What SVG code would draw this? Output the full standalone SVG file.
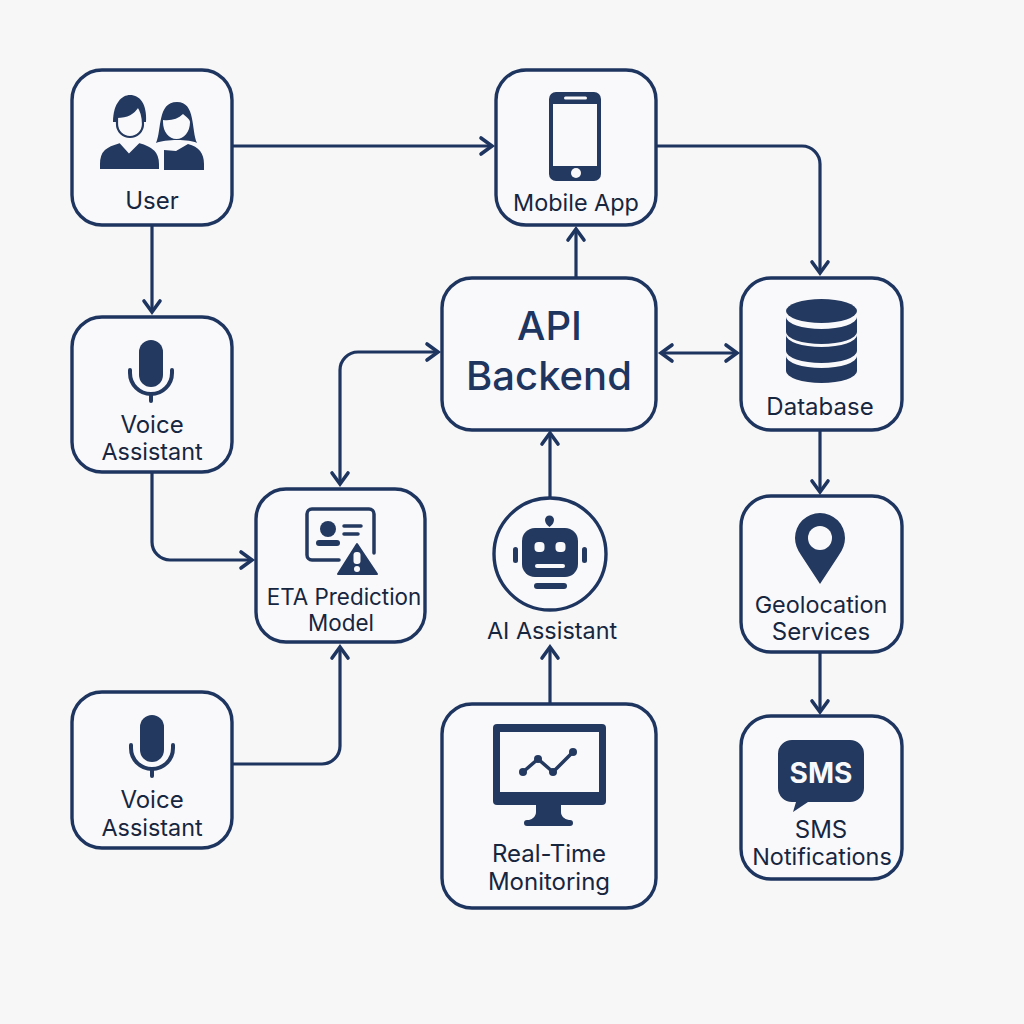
<svg xmlns="http://www.w3.org/2000/svg" width="1024" height="1024" viewBox="0 0 1024 1024">
<defs>
<style>
.box{fill:#f9f9fb;stroke:#1e3560;stroke-width:3.4}
.t{font-family:"Inter","Liberation Sans",sans-serif;font-size:24px;fill:#17263f;text-anchor:middle}
.s{font-size:23.400px}
.e{font-size:22.400px}
.big{font-family:"Inter","Liberation Sans",sans-serif;font-size:40px;font-weight:500;fill:#1e3560;text-anchor:middle}
.i{fill:#24395f}
.w{fill:#f9f9fb}
.ln{fill:none;stroke:#24395f;stroke-width:3.500;stroke-linejoin:round;stroke-linecap:round}
.c{fill:none;stroke:#1e3560;stroke-width:3.200}
.h{fill:none;stroke:#1e3560;stroke-width:3.600;stroke-linecap:round;stroke-linejoin:miter}
</style>
<symbol id="mic" overflow="visible">
<rect x="-12" y="-35" width="24" height="47" rx="12" class="i"/>
<path d="M-21,-5v3a21,21 0 0 0 42,0v-3" class="ln" style="stroke-width:4"/>
<path d="M0,19v7" class="ln" style="stroke-width:4"/>
</symbol>
</defs>
<rect width="1024" height="1024" fill="#f7f7f7"/>
<g id="connectors">
<path class="c" d="M232,146H491"/><path class="h" d="M481,138l11,8l-11,8"/>
<path class="c" d="M152,225V311"/><path class="h" d="M144,301l8,11l8,-11"/>
<path class="c" d="M656,146H802a18,18 0 0 1 18,18V272"/><path class="h" d="M812,262l8,11l8,-11"/>
<path class="c" d="M576,278V230"/><path class="h" d="M568,240l8,-11l8,11"/>
<path class="c" d="M662,353H735"/><path class="h" d="M672,345l-11,8l11,8M726,345l11,8l-11,8"/>
<path class="c" d="M340,483V370a18,18 0 0 1 18,-18H437"/><path class="h" d="M427,344l11,8l-11,8M332,473l8,11l8,-11"/>
<path class="c" d="M152,472V542a18,18 0 0 0 18,18H250"/><path class="h" d="M241,552l11,8l-11,8"/>
<path class="c" d="M232,764H322a18,18 0 0 0 18,-18V648"/><path class="h" d="M332,658l8,-11l8,11"/>
<path class="c" d="M550,498V436"/><path class="h" d="M542,444l8,-11l8,11"/>
<path class="c" d="M550,704V650"/><path class="h" d="M542,658l8,-11l8,11"/>
<path class="c" d="M820,430V490"/><path class="h" d="M812,481l8,11l8,-11"/>
<path class="c" d="M820,652V710"/><path class="h" d="M812,701l8,11l8,-11"/>
</g>
<g id="user">
<rect class="box" x="72" y="70" width="160" height="155" rx="30"/>
<path class="i" d="M164,170V150L176,151L188,144C199,147 204,153 204,164V170Z"/>
<path class="i" d="M156,143C162,130 157,102 177,102C196,102 191,130 197,143C190,139 165,139 156,143Z"/>
<path class="w" d="M163,120C171,121 178,119 183,114C186,117 190,119 190,122C190,132 184,139 176.500,139C169,139 163,132 163,122Z"/>
<path class="i" stroke="#f9f9fb" stroke-width="2" d="M99,170V164C99,150 106,146 120,142L129,152L139,142C154,146 160,152 160,164V170Z"/>
<path class="i" d="M113,122C113,103 122,95 130,95C140,95 147,104 146,122Z"/>
<path d="M117,117C126,117 134,113 138,106C141,110 143,114 143,124A13,13 0 0 1 117,124Z" fill="#f9f9fb" stroke="#24395f" stroke-width="2.200"/>
<text class="t" x="152" y="209">User</text>
</g>
<g id="mobile-app">
<rect class="box" x="496" y="70" width="160" height="155" rx="30"/>
<rect class="i" x="549" y="92" width="52" height="89" rx="7"/>
<rect class="w" x="553" y="104" width="44" height="62"/>
<rect class="w" x="564" y="96.500" width="23" height="3" rx="1.500"/>
<circle class="w" cx="576" cy="173" r="5"/>
<text class="t s" x="576" y="211">Mobile App</text>
</g>
<g id="api-backend">
<rect class="box" x="442" y="278" width="214" height="152" rx="30"/>
<text class="big" x="549.500" y="340">API</text>
<text class="big" x="549" y="390">Backend</text>
</g>
<g id="database">
<rect class="box" x="741" y="278" width="161" height="152" rx="30"/>
<path class="i" d="M786,317A35.500,12 0 0 0 857,317V332A35.500,12 0 0 1 786,332Z"/>
<path class="i" d="M786,335A35.500,12 0 0 0 857,335V351A35.500,12 0 0 1 786,351Z"/>
<path class="i" d="M786,356A35.500,12 0 0 0 857,356V371A35.500,12 0 0 1 786,371Z"/>
<ellipse class="i" cx="821.500" cy="311" rx="35.500" ry="12"/>
<text class="t" x="820" y="415">Database</text>
</g>
<g id="voice-assistant-1">
<rect class="box" x="72" y="317" width="160" height="155" rx="30"/>
<use href="#mic" x="151" y="375"/>
<text class="t" x="152" y="433">Voice</text>
<text class="t s" x="152" y="460">Assistant</text>
</g>
<g id="eta-prediction-model">
<rect class="box" x="256" y="489" width="169" height="153" rx="30"/>
<path class="ln" d="M339,560H312a5,5 0 0 1 -5,-5V514a5,5 0 0 1 5,-5H369a5,5 0 0 1 5,5V553"/>
<circle class="i" cx="328" cy="529" r="8"/>
<rect class="i" x="316" y="540" width="24" height="6" rx="3"/>
<path class="ln" d="M344,526H361M344,534H358"/>
<path class="i" stroke="#24395f" stroke-width="2" stroke-linejoin="round" d="M357,544L377,574H338Z"/>
<rect class="w" x="353.500" y="552" width="7" height="12" rx="3"/>
<circle class="w" cx="357" cy="569" r="3"/>
<text class="t e" x="344" y="605">ETA Prediction</text>
<text class="t e" x="341" y="631">Model</text>
</g>
<g id="ai-assistant">
<circle class="box" cx="550" cy="554" r="56"/>
<rect class="i" x="522" y="528" width="56" height="49" rx="13"/>
<path class="i" d="M545,520a4.500,4.500 0 0 1 9,0c0,3 -2,5 -4.500,7c-2.500,-2 -4.500,-4 -4.500,-7Z"/>
<rect class="i" x="513" y="547" width="5" height="16" rx="2.500"/>
<rect class="i" x="582" y="547" width="5" height="16" rx="2.500"/>
<rect class="w" x="534.500" y="542" width="10" height="10" rx="4"/>
<rect class="w" x="555.500" y="542" width="10" height="10" rx="4"/>
<rect class="w" x="535" y="564" width="30" height="4" rx="2"/>
<rect class="i" x="534" y="583" width="33" height="6" rx="3"/>
<text class="t s" x="552" y="639">AI Assistant</text>
</g>
<g id="voice-assistant-2">
<rect class="box" x="72" y="692" width="160" height="156" rx="30"/>
<use href="#mic" x="152" y="750"/>
<text class="t" x="152" y="808">Voice</text>
<text class="t s" x="152" y="836">Assistant</text>
</g>
<g id="real-time-monitoring">
<rect class="box" x="442" y="704" width="214" height="204" rx="30"/>
<rect class="i" x="493" y="724" width="113" height="81" rx="4"/>
<rect class="w" x="500" y="732" width="99" height="60"/>
<path class="i" d="M536,804H561V812C561,816 564,819 569,820H570a3,3 0 0 1 0,6H527a3,3 0 0 1 0,-6H529C533,819 536,816 536,812Z"/>
<path class="ln" d="M523,772L538,759L553,772L573,752"/>
<circle class="i" cx="523" cy="772" r="4"/><circle class="i" cx="538" cy="759" r="4"/><circle class="i" cx="553" cy="772" r="4"/><circle class="i" cx="573" cy="752" r="4"/>
<text class="t" x="549" y="862">Real-Time</text>
<text class="t" x="549" y="890">Monitoring</text>
</g>
<g id="geolocation-services">
<rect class="box" x="741" y="496" width="161" height="156" rx="30"/>
<path class="i" d="M820,584L801,555C797,549 795,544 795,538A25,25 0 0 1 845,538C845,544 843,549 839,555Z"/>
<circle class="w" cx="820" cy="538" r="12"/>
<text class="t s" x="821" y="613">Geolocation</text>
<text class="t" x="821" y="640">Services</text>
</g>
<g id="sms-notifications">
<rect class="box" x="741" y="716" width="161" height="163" rx="30"/>
<path class="i" d="M792,740H850a14,14 0 0 1 14,14V788a14,14 0 0 1 -14,14H808L793,812L796,802H792a14,14 0 0 1 -14,-14V754a14,14 0 0 1 14,-14Z"/>
<text x="821" y="783" font-family="Inter,'Liberation Sans',sans-serif" font-size="28" font-weight="700" fill="#f9f9fb" text-anchor="middle">SMS</text>
<text class="t" x="821" y="838">SMS</text>
<text class="t s" x="822" y="865">Notifications</text>
</g>
</svg>
